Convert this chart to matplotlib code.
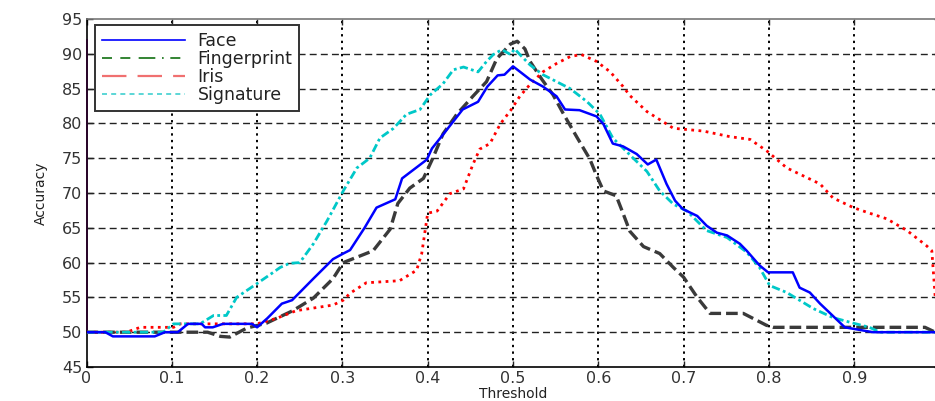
import matplotlib
matplotlib.use("Agg")
import matplotlib.pyplot as plt
from matplotlib.lines import Line2D

# ---------------- data ----------------
face_x = [0, 0.022, 0.031, 0.08, 0.092, 0.107, 0.119, 0.135, 0.139, 0.148, 0.16, 0.194, 0.2,
          0.212, 0.229, 0.241, 0.266, 0.289, 0.301, 0.309, 0.326, 0.34, 0.362, 0.37, 0.399,
          0.405, 0.418, 0.441, 0.459, 0.47, 0.482, 0.49, 0.5, 0.52, 0.535, 0.551, 0.561,
          0.578, 0.598, 0.606, 0.617, 0.629, 0.645, 0.658, 0.668, 0.68, 0.69, 0.699, 0.716,
          0.727, 0.739, 0.751, 0.766, 0.774, 0.789, 0.799, 0.828, 0.836, 0.848, 0.86, 0.872,
          0.889, 0.922, 0.995]
face_y = [50, 50, 49.4, 49.4, 50, 50, 51.2, 51.2, 50.7, 50.7, 51.2, 51.2, 50.7,
          52, 54.1, 54.6, 57.7, 60.5, 61.3, 61.8, 65, 67.9, 69.1, 72.1, 74.8,
          76.4, 78.4, 82, 83.1, 85.3, 86.9, 87, 88.2, 86.3, 85.3, 83.9, 82,
          81.9, 81, 79.9, 77.1, 76.7, 75.6, 74.1, 74.8, 71.3, 68.9, 67.7, 66.7,
          65.3, 64.3, 63.9, 62.7, 61.7, 59.6, 58.6, 58.6, 56.4, 55.7, 54.1, 52.7,
          50.7, 50, 50]

finger_x = [0, 0.142, 0.157, 0.168, 0.188, 0.211, 0.242, 0.266, 0.289, 0.301, 0.336, 0.356,
            0.365, 0.379, 0.395, 0.406, 0.418, 0.434, 0.453, 0.469, 0.481, 0.497, 0.505,
            0.514, 0.52, 0.534, 0.547, 0.559, 0.575, 0.59, 0.598, 0.606, 0.621, 0.628,
            0.637, 0.653, 0.672, 0.688, 0.7, 0.716, 0.731, 0.77, 0.797, 0.805, 0.983, 0.995]
finger_y = [50, 50, 49.4, 49.3, 50.6, 51.3, 53.1, 54.9, 57.7, 60, 61.7, 64.8,
            68.5, 70.7, 72.1, 75, 78.5, 81.3, 83.9, 86, 89.3, 91.4, 91.8,
            90.7, 88.9, 86.3, 84.1, 81.4, 78, 74.9, 72.5, 70.3, 69.6, 67.4,
            64.5, 62.3, 61.3, 59.3, 57.9, 55, 52.7, 52.7, 51, 50.7, 50.7, 50]

iris_x = [0, 0.047, 0.063, 0.102, 0.11, 0.2, 0.223, 0.246, 0.289, 0.301, 0.309, 0.328, 0.367,
          0.387, 0.393, 0.4, 0.411, 0.426, 0.442, 0.453, 0.461, 0.473, 0.485, 0.498, 0.508,
          0.52, 0.535, 0.551, 0.567, 0.58, 0.598, 0.614, 0.629, 0.637, 0.657, 0.688, 0.723,
          0.754, 0.778, 0.798, 0.821, 0.86, 0.875, 0.899, 0.918, 0.938, 0.962, 0.985, 0.991,
          0.995]
iris_y = [50, 50, 50.7, 50.7, 51.2, 51.2, 52, 53.1, 53.9, 54.6, 55.6, 57.1, 57.4,
          58.9, 61.3, 67.1, 67.4, 69.9, 70.6, 74.1, 76.3, 77.1, 79.9, 82, 83.9,
          85.6, 87.4, 88.6, 89.6, 89.9, 88.9, 87.4, 85.3, 84, 81.7, 79.3, 78.9,
          78.1, 77.7, 76, 73.6, 71.3, 69.3, 67.9, 67.1, 66.3, 64.6, 62.4, 61.7,
          55]

sig_x = [0, 0.09, 0.102, 0.133, 0.149, 0.164, 0.176, 0.188, 0.2, 0.219, 0.227, 0.238, 0.25,
         0.266, 0.282, 0.301, 0.317, 0.332, 0.344, 0.36, 0.375, 0.391, 0.403, 0.418, 0.43,
         0.442, 0.459, 0.469, 0.477, 0.487, 0.497, 0.502, 0.508, 0.52, 0.535, 0.551, 0.567,
         0.587, 0.602, 0.617, 0.641, 0.657, 0.672, 0.688, 0.704, 0.727, 0.751, 0.774, 0.789,
         0.801, 0.821, 0.852, 0.875, 0.899, 0.918, 0.93, 0.995]
sig_y = [50, 50, 51.2, 51.2, 52.4, 52.4, 55, 56, 57, 58.6, 59.3, 59.9, 60,
         62.7, 66, 70.3, 73.6, 75, 77.9, 79.3, 81.3, 82, 84.1, 85.7, 87.7,
         88.1, 87.4, 88.9, 89.9, 90.6, 89.9, 90.7, 89.9, 88.4, 87, 86, 85,
         83.1, 81.3, 77.9, 75, 73.1, 70.3, 68.4, 67.4, 64.6, 63.6, 61.5, 59.3,
         56.7, 55.7, 53.4, 52.1, 51.3, 50.7, 50, 50]

edge_x = [0, 0]
edge_y = [50, 92]

labels = ["Face", "Fingerprint", "Iris", "Signature"]
x_ticks = [0, 0.1, 0.2, 0.3, 0.4, 0.5, 0.6, 0.7, 0.8, 0.9]
x_ticklabels = ["0", "0.1", "0.2", "0.3", "0.4", "0.5", "0.6", "0.7", "0.8", "0.9"]
y_ticks = [45, 50, 55, 60, 65, 70, 75, 80, 85, 90, 95]

# ---------------- figure ----------------
plt.rcParams['font.family'] = ['DejaVu Sans']
fig = plt.figure(figsize=(9.35, 4.01), dpi=100)
ax = fig.add_axes([86.5 / 935, 34 / 401, 853 / 935, 348 / 401])

ax.set_xlim(0, 1)
ax.set_ylim(45, 95)

# grid
for xv in x_ticks[1:]:
    ax.axvline(xv, color="black", lw=1.4, ls=(0, (1.2, 2.2)), zorder=1)
for yv in y_ticks[1:-1]:
    ax.axhline(yv, color="#222222", lw=1.0, ls=(0, (5, 3)), zorder=1)

ax.plot(edge_x, edge_y, color="#ff00ff", lw=1.2, clip_on=False, zorder=2)
ax.plot(finger_x, finger_y, color="#3a3a3a", lw=2.4, ls=(0, (3.5, 1.5)), zorder=3)
ax.plot(iris_x, iris_y, color="#ff0000", lw=2.0, ls=(0, (1, 1.6)), zorder=3)
ax.plot(sig_x, sig_y, color="#00c8c8", lw=2.0, ls=(0, (3, 1.2, 1, 1.2)), zorder=3)
ax.plot(face_x, face_y, color="#0000ff", lw=1.8, zorder=4)

ax.set_xticks(x_ticks)
ax.set_xticklabels(x_ticklabels)
ax.set_yticks(y_ticks)
ax.tick_params(direction="in", top=True, right=True, length=4, width=1,
               labelsize=11.5, colors="#222222", pad=3)
for lab in ax.get_xticklabels() + ax.get_yticklabels():
    lab.set_color("#333333")

ax.spines["left"].set_color("black")
ax.spines["bottom"].set_color("black")
ax.spines["top"].set_color("#777777")
ax.spines["right"].set_color("#777777")
for s in ax.spines.values():
    s.set_linewidth(1.2)

ax.set_xlabel("Threshold", fontsize=10, color="#222222")
ax.xaxis.set_label_coords(0.5, -0.057)
ax.set_ylabel("Accuracy", fontsize=10, color="#222222", labelpad=10)

handles = [
    Line2D([], [], color="#0000ff", lw=1.2),
    Line2D([], [], color="#107010", lw=1.2, ls=(0, (6, 5, 6, 5, 10, 4, 1, 4))),
    Line2D([], [], color="#f07070", lw=1.6, ls=(0, (11, 5))),
    Line2D([], [], color="#40d0d0", lw=1.2, ls=(0, (3, 2.5))),
]
leg = ax.legend(handles, labels, loc="upper left", bbox_to_anchor=(0.01, 0.983),
                borderaxespad=0, fontsize=12.5, handlelength=4.8, handletextpad=0.7,
                labelspacing=0.0, borderpad=0.4, fancybox=False, framealpha=1,
                edgecolor="#333333")
leg.get_frame().set_linewidth(1.4)
for t in leg.get_texts():
    t.set_color("#222222")

fig.savefig("out.png", dpi=100)
